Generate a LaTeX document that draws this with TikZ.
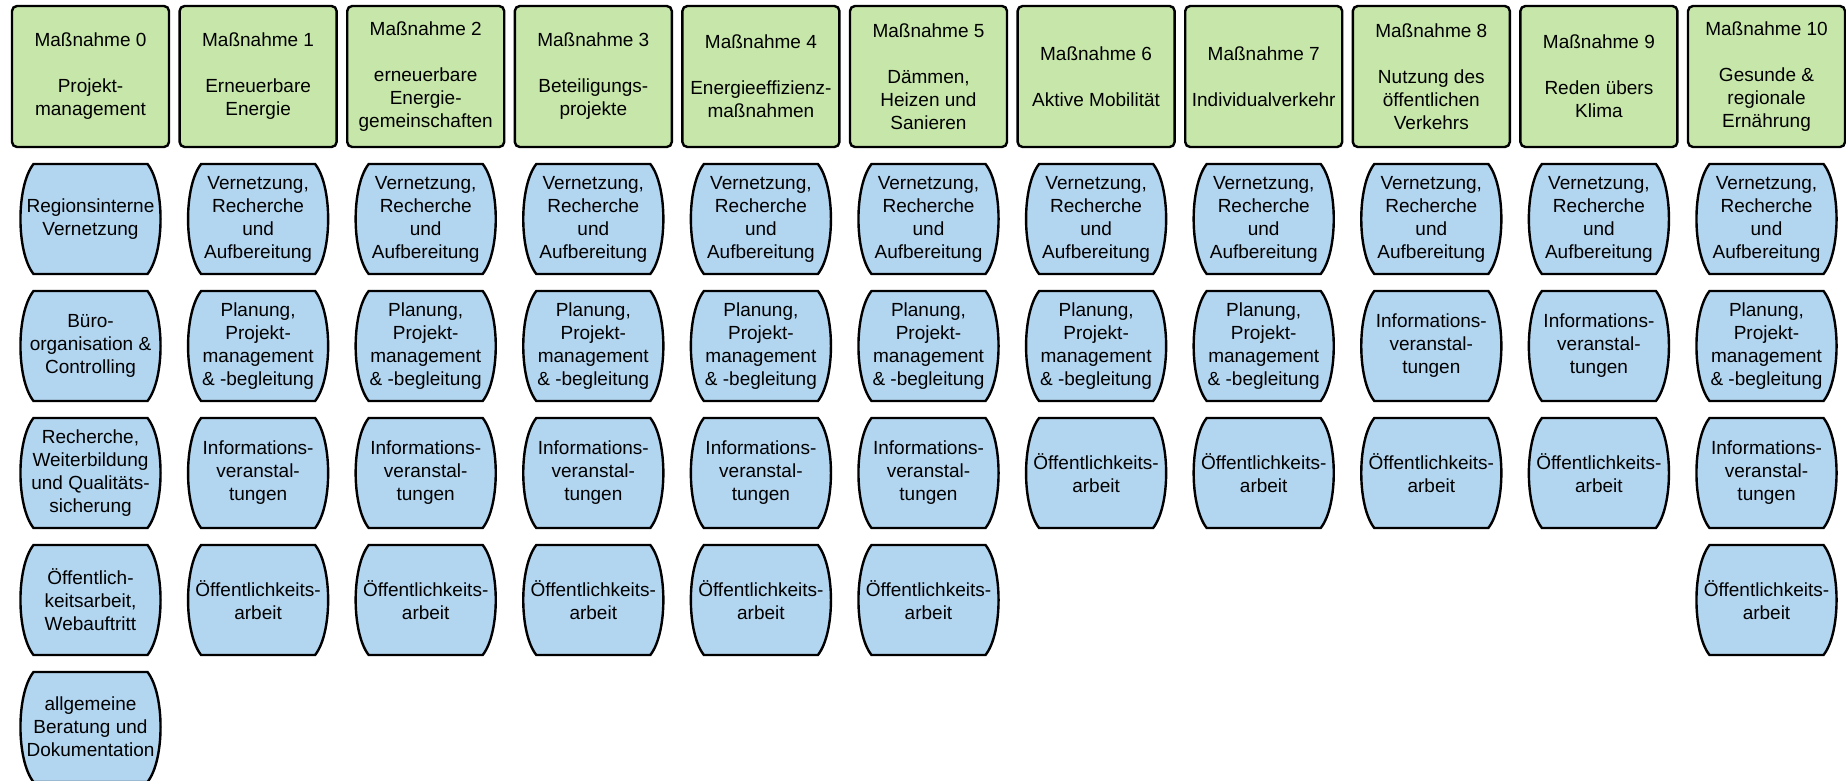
\documentclass[tikz,border=0pt]{standalone}
\usepackage{fontspec}
\setmainfont{Liberation Sans}

\definecolor{kopfgruen}{RGB}{199,231,170}
\definecolor{feldblau}{RGB}{178,213,240}

\newcommand{\txtvernetzung}{Vernetzung,\\Recherche\\und\\Aufbereitung}
\newcommand{\txtplanung}{Planung,\\Projekt-\\management\\\& -begleitung}
\newcommand{\txtinfo}{Informations-\\veranstal-\\tungen}
\newcommand{\txtoeffentlich}{Öffentlichkeits-\\arbeit}

\begin{document}
\begin{tikzpicture}[x=1pt, y=1pt,
    kopf/.style={draw=black, line width=1.2pt, fill=kopfgruen, rounded corners=2.5pt,
        minimum width=78.5pt, minimum height=70.5pt, inner sep=1pt, align=center,
        font=\fontsize{9.5}{11.5}\selectfont},
    feldlinie/.style={draw=black, line width=1.2pt, fill=feldblau},
    feld/.style={rectangle, minimum width=70.5pt, minimum height=55pt, inner sep=0pt,
        align=center, font=\fontsize{9.5}{11.5}\selectfont}]
    \useasboundingbox (0,0) rectangle (923,-390.5);
    \foreach \col/\kopftxt/\felder in {
        0/{Projekt-\\management}/{{Regionsinterne\\Vernetzung},{Büro-\\organisation \&\\Controlling},{Recherche,\\Weiterbildung\\und Qualitäts-\\sicherung},{Öffentlich-\\keitsarbeit,\\Webauftritt},{allgemeine\\Beratung und\\Dokumentation}},
        1/{Erneuerbare\\Energie}/{{\txtvernetzung},{\txtplanung},{\txtinfo},{\txtoeffentlich}},
        2/{erneuerbare\\Energie-\\gemeinschaften}/{{\txtvernetzung},{\txtplanung},{\txtinfo},{\txtoeffentlich}},
        3/{Beteiligungs-\\projekte}/{{\txtvernetzung},{\txtplanung},{\txtinfo},{\txtoeffentlich}},
        4/{Energieeffizienz-\\maßnahmen}/{{\txtvernetzung},{\txtplanung},{\txtinfo},{\txtoeffentlich}},
        5/{Dämmen,\\Heizen und\\Sanieren}/{{\txtvernetzung},{\txtplanung},{\txtinfo},{\txtoeffentlich}},
        6/{Aktive Mobilität}/{{\txtvernetzung},{\txtplanung},{\txtoeffentlich}},
        7/{Individualverkehr}/{{\txtvernetzung},{\txtplanung},{\txtoeffentlich}},
        8/{Nutzung des\\öffentlichen\\Verkehrs}/{{\txtvernetzung},{\txtinfo},{\txtoeffentlich}},
        9/{Reden übers\\Klima}/{{\txtvernetzung},{\txtinfo},{\txtoeffentlich}},
        10/{Gesunde \&\\regionale\\Ernährung}/{{\txtvernetzung},{\txtplanung},{\txtinfo},{\txtoeffentlich}}}
    {
        \pgfmathsetmacro{\xc}{45.25+83.8*\col}
        \node[kopf] (m\col) at (\xc,-38.25) {Maßnahme \col\\[11.5pt]\kopftxt};
        \foreach \feldtxt [count=\r from 0] in \felder {
            \pgfmathsetmacro{\yc}{-109.5-63.5*\r}
            % Tonnenform hinter dem Text
            \draw[feldlinie] (\xc,\yc) ++(-28.5,27.5) -- ++(57,0)
                .. controls +(8.7,-11) and +(8.7,11) .. ++(0,-55) -- ++(-57,0)
                .. controls +(-8.7,11) and +(-8.7,-11) .. cycle;
            \node[feld] (f\col-\r) at (\xc,\yc) {\feldtxt};
        }
    }
\end{tikzpicture}
\end{document}
